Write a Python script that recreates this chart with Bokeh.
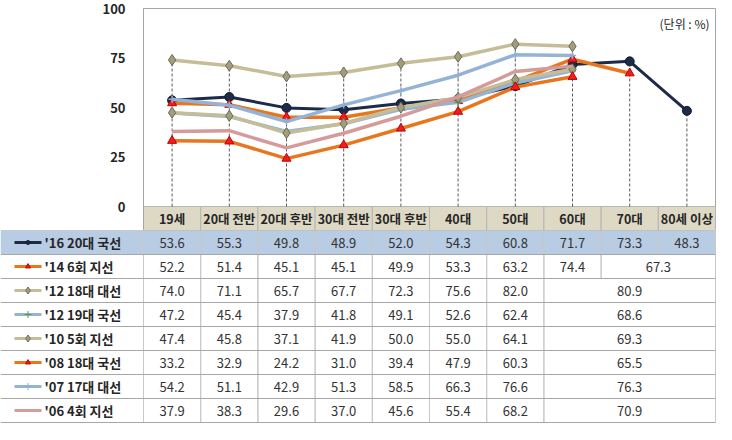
from bokeh.plotting import figure
from bokeh.models import Range1d, FixedTicker, Label, ColumnDataSource
from bokeh.layouts import column
from bokeh.embed import file_html
from bokeh.resources import INLINE
from bokeh.core.properties import value

# ---------------- data ----------------
categories = ["19세", "20대 전반", "20대 후반", "30대 전반", "30대 후반",
              "40대", "50대", "60대", "70대", "80세 이상"]
series_names = ["'16 20대 국선", "'14 6회 지선", "'12 18대 대선", "'12 19대 국선",
                "'10 5회 지선", "'08 18대 국선", "'07 17대 대선", "'06 4회 지선"]
s16 = [53.6, 55.3, 49.8, 48.9, 52.0, 54.3, 60.8, 71.7, 73.3, 48.3]
s14 = [52.2, 51.4, 45.1, 45.1, 49.9, 53.3, 63.2, 74.4, 67.3]
s12p = [74.0, 71.1, 65.7, 67.7, 72.3, 75.6, 82.0, 80.9]
s12g = [47.2, 45.4, 37.9, 41.8, 49.1, 52.6, 62.4, 68.6]
s10 = [47.4, 45.8, 37.1, 41.9, 50.0, 55.0, 64.1, 69.3]
s08 = [33.2, 32.9, 24.2, 31.0, 39.4, 47.9, 60.3, 65.5]
s07 = [54.2, 51.1, 42.9, 51.3, 58.5, 66.3, 76.6, 76.3]
s06 = [37.9, 38.3, 29.6, 37.0, 45.6, 55.4, 68.2, 70.9]
yticks = [0, 25, 50, 75, 100]
unit_label = "(단위 : %)"

series = [s16, s14, s12p, s12g, s10, s08, s07, s06]

# ---------------- styles ----------------
FONT = "Noto Sans CJK KR"
NAVY = "#1C2B47"
ORANGE = "#E8761E"
TAN = "#C4BD97"
LBLUE = "#95B3D7"
PINK = "#D59A9A"
styles = [
    dict(color=NAVY, width=3, marker="circle", size=9, key=4, fill=NAVY, line="#0E1A30"),
    dict(color=ORANGE, width=3.5, marker="triangle", size=9, key=5, fill="#F01E1E", line="#C00000"),
    dict(color=TAN, width=3.5, marker="diamond", size=11, key=7, fill="#A19E7E", line="#6E6B55"),
    dict(color=LBLUE, width=3.5, marker="cross", size=7, key=7, fill="#5E9A46", line="#5E9A46"),
    dict(color=TAN, width=3.5, marker="diamond", size=11, key=7, fill="#A19E7E", line="#6E6B55"),
    dict(color=ORANGE, width=3.5, marker="triangle", size=9, key=5, fill="#F01E1E", line="#C00000"),
    dict(color=LBLUE, width=3.5, marker="cross", size=7, key=7, fill="#8FAFD5", line="#8FAFD5"),
    dict(color=PINK, width=3.5, marker=None, size=0, key=0, fill=None, line=None),
]

COLW = 57.2      # px per category column
LABW = 143       # px label column
CH = 198         # px chart area (0..100)
HH = 24          # px header row
RH = 24          # px table row
TOP = 8
NC = len(categories)
NR = len(series)
W = LABW + int(round(NC * COLW)) + 1
scale = CH / 100.0
TXT = "#262626"
GRID = "#B5B5B5"

# ---------------- chart (with header row) ----------------
p = figure(width=W, height=TOP + CH + HH,
           x_range=Range1d(0, NC), y_range=Range1d(-HH / scale, 100),
           x_axis_type=None, output_backend="svg", toolbar_location=None,
           min_border_left=LABW, min_border_right=1, min_border_top=TOP,
           min_border_bottom=0, frame_align=False)
p.grid.visible = False
p.outline_line_color = "#A6A6A6"
p.background_fill_color = "white"
p.border_fill_color = "white"
ax = p.yaxis[0]
ax.ticker = FixedTicker(ticks=yticks)
ax.axis_line_color = "#A6A6A6"
ax.major_tick_line_color = None
ax.minor_tick_line_color = None
ax.major_label_standoff = 12
ax.major_label_text_font = FONT
ax.major_label_text_font_size = "13px"
ax.major_label_text_font_style = "bold"
ax.major_label_text_color = TXT

# header cells
hdr = ColumnDataSource(dict(
    left=[i for i in range(NC)], right=[i + 1 for i in range(NC)],
    xc=[i + 0.5 for i in range(NC)], lab=categories))
p.quad(left="left", right="right", bottom=-HH / scale, top=0, source=hdr,
       fill_color="#DDD9C4", line_color=GRID, line_width=1)
p.text(x="xc", y=-HH / scale / 2, text="lab", source=hdr,
       text_font=value(FONT), text_font_size=value("12.5px"),
       text_font_style="bold", text_color=TXT,
       text_align="center", text_baseline="middle")

# drop lines from highest point at each category
tops = [max(s[i] for s in series if len(s) > i) for i in range(NC)]
p.segment(x0=[i + 0.5 for i in range(NC)], y0=[0] * NC,
          x1=[i + 0.5 for i in range(NC)], y1=tops,
          line_color="#595959", line_dash="3 2", line_width=1)

for s, st in zip(series, styles):
    xs = [i + 0.5 for i in range(len(s))]
    p.line(xs, s, line_color=st["color"], line_width=st["width"], line_join="round")
    if st["marker"]:
        p.scatter(xs, s, marker=st["marker"], size=st["size"],
                  fill_color=st["fill"], line_color=st["line"],
                  line_width=1.5 if st["marker"] == "cross" else 1)

p.add_layout(Label(x=NC, y=100, x_offset=-6, y_offset=-15, text=unit_label,
                   text_align="right", text_baseline="middle",
                   text_font=FONT, text_font_size="12px", text_color=TXT))

# ---------------- data table ----------------
t = figure(width=W, height=NR * RH + 1,
           x_range=Range1d(-LABW / COLW, NC + 1 / COLW),
           y_range=Range1d(NR + 1 / RH, 0),
           x_axis_type=None, y_axis_type=None,
           output_backend="svg", toolbar_location=None, min_border=0,
           frame_align=False)
t.grid.visible = False
t.outline_line_color = None
t.background_fill_color = "white"

# highlighted first row
t.quad(left=-LABW / COLW, right=NC, top=0, bottom=1,
       fill_color="#B8CCE4", line_color=None)

cl, cr, ct, cb, tx, ty, tv = [], [], [], [], [], [], []
for r, s in enumerate(series):
    for i, v in enumerate(s):
        left = i
        right = i + 1 if i < len(s) - 1 else NC
        cl.append(left); cr.append(right); ct.append(r); cb.append(r + 1)
        tx.append((left + right) / 2); ty.append(r + 0.5); tv.append("%.1f" % v)
t.quad(left=cl, right=cr, top=ct, bottom=cb, fill_alpha=0,
       line_color="#C8C8C8", line_width=1)
t.segment(x0=[-LABW / COLW] * (NR + 1), y0=list(range(NR + 1)),
          x1=[NC] * (NR + 1), y1=list(range(NR + 1)),
          line_color="#A6A6A6", line_width=1)
t.text(x=tx, y=ty, text=tv, text_font=value(FONT), text_font_size=value("13px"),
       text_color="#333333", text_align="center", text_baseline="middle")

# legend keys
lx0 = (14 - LABW) / COLW
lx1 = (41 - LABW) / COLW
lxm = (lx0 + lx1) / 2
for r, st in enumerate(styles):
    t.segment(x0=[lx0], y0=[r + 0.5], x1=[lx1], y1=[r + 0.5],
              line_color=st["color"], line_width=3)
    if st["marker"]:
        t.scatter([lxm], [r + 0.5], marker=st["marker"], size=st["key"],
                  fill_color=st["fill"], line_color=st["line"], line_width=1)
t.text(x=[(44 - LABW) / COLW] * NR, y=[r + 0.5 for r in range(NR)], text=series_names,
       text_font=value(FONT), text_font_size=value("13px"), text_font_style="bold",
       text_color=TXT, text_align="left", text_baseline="middle")

layout = column(p, t, spacing=0)
open("out.html", "w").write(file_html(layout, INLINE))
